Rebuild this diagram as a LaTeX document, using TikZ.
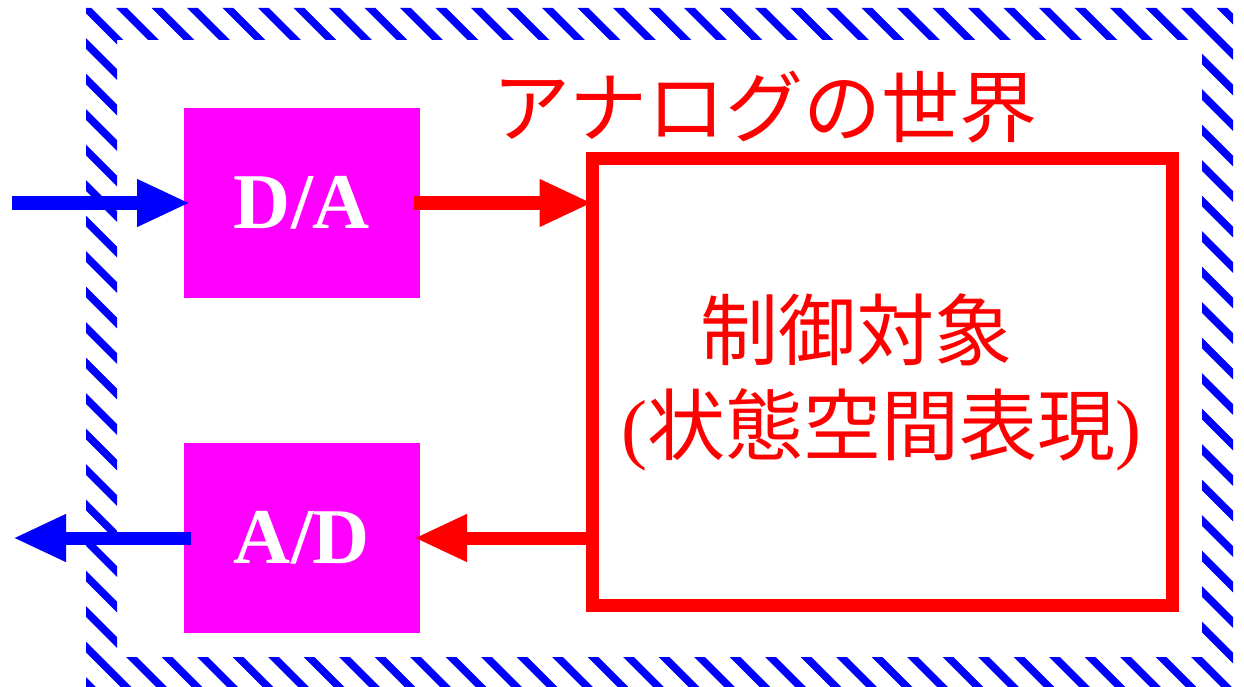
\documentclass[tikz,border=0pt]{standalone}
\usepackage{fontspec}
\setmainfont{Liberation Serif}
\newfontfamily\cjk{Noto Sans CJK JP}
\usetikzlibrary{arrows.meta}
\definecolor{hblue}{RGB}{0,0,255}
\definecolor{hred}{RGB}{255,0,0}
\definecolor{hmag}{RGB}{255,0,255}
\begin{document}
\begin{tikzpicture}[x=1pt,y=-1pt,
 conv/.style={fill=hmag, draw=none, minimum width=236pt, minimum height=190pt, inner sep=0pt, outer sep=0pt, text=white, font=\fontsize{79}{90}\selectfont\bfseries},
 plantbox/.style={draw=hred, line width=13pt, minimum width=580pt, minimum height=447pt, outer sep=0pt, inner sep=0pt},
 jp/.style={text=hred, font=\cjk\fontsize{78}{90}\selectfont, inner sep=0pt},
 bluearr/.style={draw=hblue, line width=13pt, -{Triangle[length=53pt,width=44pt]}},
 redarr/.style={draw=hred, line width=13pt, -{Triangle[length=53pt,width=44pt]}},
 hatch/.style={draw=hblue, line width=7.5pt},
]
\useasboundingbox (0,0) rectangle (1244,687);
% hatched frame
\begin{scope}[even odd rule]
\clip (86,8) rectangle (1233,692) (117,40) rectangle (1202,657);
\foreach \k in {-22,...,35} {
  \draw[hatch] ({78+35.5*\k-20},-20) -- ({78+35.5*\k+720},720);
}
\end{scope}
% blocks
\node[conv] (da) at (302,203) {D/A};
\node[conv] (ad) at (302,538) {A/D};
\node[plantbox] (plant) at (882.5,382) {};
\node[jp] (title) at (765,107) {アナログの世界};
\node[jp] (ctrl) at (856,330) {制御対象};
\node[jp] (repr) at (881,430) {{\rmfamily(}状態空間表現{\rmfamily)}};
% connectors
\coordinate (inL) at (12,203);
\coordinate (outL) at (13,538);
\draw[bluearr] (inL) -- ([xshift=6pt]da.west);
\draw[bluearr] ([xshift=7pt]ad.west) -- (outL);
\draw[redarr] ([xshift=-6pt]da.east) -- (da.east -| plant.west);
\draw[redarr] (ad.east -| plant.west) -- ([xshift=-6pt]ad.east);
\end{tikzpicture}
\end{document}
